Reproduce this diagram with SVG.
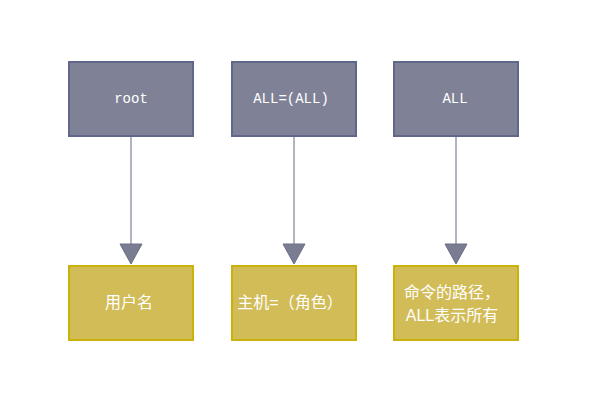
<svg xmlns="http://www.w3.org/2000/svg" width="594" height="406" viewBox="0 0 594 406">
<defs>
<style>
.top rect{fill:#7f8296;stroke:#61678a;stroke-width:2}
.bot rect{fill:#d2bc58;stroke:#cbb20a;stroke-width:2}
.tt{font-family:"Liberation Mono","DejaVu Sans Mono",monospace;font-size:14px;fill:#ffffff;text-anchor:middle}
.bt{font-family:"Liberation Sans","Noto Sans CJK SC",sans-serif;font-size:16px;fill:#ffffff;text-anchor:middle}
.conn line{stroke:#646880;stroke-width:1}
.conn polygon{fill:#7a7d91;stroke:#6a6e86;stroke-width:1}
</style>
</defs>
<rect width="594" height="406" fill="#ffffff"/>
<g id="root" class="top"><rect x="69" y="62" width="124" height="74"/><text class="tt" x="131" y="103">root</text></g>
<g id="allall" class="top"><rect x="232" y="62" width="124" height="74"/><text class="tt" x="291" y="103">ALL=(ALL)</text></g>
<g id="all" class="top"><rect x="394" y="62" width="124" height="74"/><text class="tt" x="455" y="103">ALL</text></g>
<g id="user" class="bot"><rect x="69" y="266" width="124" height="74"/><text class="bt" x="129" y="308">用户名</text></g>
<g id="host" class="bot"><rect x="232" y="266" width="124" height="74"/><text class="bt" x="290" y="308">主机=（角色）</text></g>
<g id="cmd" class="bot"><rect x="394" y="266" width="124" height="74"/><text class="bt" x="452" y="298">命令的路径，</text><text class="bt" x="452" y="321">ALL表示所有</text></g>
<g id="connectors" class="conn">
<line x1="131" y1="136" x2="131" y2="245"/><polygon points="120,244 142,244 131,264"/>
<line x1="294" y1="136" x2="294" y2="245"/><polygon points="283,244 305,244 294,264"/>
<line x1="456" y1="136" x2="456" y2="245"/><polygon points="445,244 467,244 456,264"/>
</g>
</svg>
